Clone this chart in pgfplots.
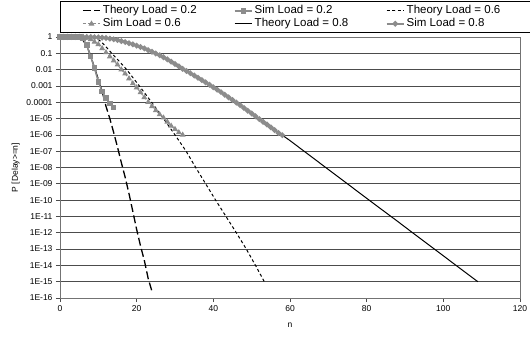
\documentclass[border=0pt]{standalone}
\usepackage{pgfplots}
\pgfplotsset{compat=1.18}
\usepackage{fontspec}
\setmainfont{Liberation Sans}
\definecolor{simgray}{RGB}{140,140,140}
\begin{document}
\begin{tikzpicture}
\path[use as bounding box] (-60pt,-39pt) rectangle (470pt,298pt);
\begin{axis}[
  scale only axis, width=460pt, height=261pt,
  xmin=0, xmax=120, ymin=1e-16, ymax=1, ymode=log,
  xtick={0,20,40,60,80,100,120},
  xticklabels={0,20,40,60,80,100,120},
  ytick={1,1e-1,1e-2,1e-3,1e-4,1e-5,1e-6,1e-7,1e-8,1e-9,1e-10,1e-11,1e-12,1e-13,1e-14,1e-15,1e-16},
  yticklabels={1,0.1,0.01,0.001,0.0001,1E-05,1E-06,1E-07,1E-08,1E-09,1E-10,1E-11,1E-12,1E-13,1E-14,1E-15,1E-16},
  yminorticks=false,
  tick align=outside, tick pos=left, major tick length=4pt,
  ymajorgrids, grid style={black!70, line width=0.7pt},
  axis line style={black!55, line width=0.8pt},
  every tick/.style={black!70, line width=0.7pt},
  tick label style={font=\fontsize{8.5}{10}\selectfont},
  xlabel={n}, ylabel={P [Delay>=n]},
  label style={font=\fontsize{8.5}{10}\selectfont},
  xlabel style={yshift=-5pt},
  legend columns=3,
  legend cell align=left,
  legend image code/.code={%
    \path[draw=none, fill=none] (0pt,0pt) (20pt,0pt);
    \draw[mark repeat=2,mark phase=2,#1] plot coordinates {(0pt,0pt) (8.5pt,0pt) (17pt,0pt)};},
  legend style={at={(0,1)}, anchor=north west, yshift=35.5pt, draw=black, line width=0.7pt,
    font=\fontsize{11.5}{13}\selectfont, inner xsep=22pt, inner ysep=4pt, row sep=3pt,
    nodes={inner sep=0pt, text height=8pt, text depth=2pt},
    /tikz/every even column/.append style={column sep=0pt},
    /tikz/every odd column/.append style={column sep=0pt}},
]
% theoretical and simulated delay tails for three loads
\addplot[black, line width=1.3pt, dash pattern=on 8pt off 3.5pt] coordinates {
(0,1) (5,1) (6,0.631) (7,0.282) (8,0.0708) (9,0.0126) (10,0.00251) (11,4.47e-4)
(12,5.62e-5) (13,1e-5) (14,1.41e-6) (15,1.78e-7) (16,2e-8) (17,2.51e-9) (18,2.51e-10)
(19,2e-11) (20,1.58e-12) (21,1.58e-13) (22,2e-14) (23,1.58e-15) (24,2.51e-16)};
\addlegendentry{\makebox[131pt][l]{Theory Load = 0.2}}

\addplot[simgray, line width=1.5pt, mark=square*, mark size=2pt, mark options={solid}] coordinates {
(0,1) (1,1) (2,1) (3,1) (4,1) (5,1) (6,0.794) (7,0.316) (8,0.0631) (9,0.0126)
(10,0.00178) (11,4.47e-4) (12,1.78e-4) (13,8.51e-5) (14,4.68e-5)};
\addlegendentry{\makebox[131pt][l]{Sim Load = 0.2}}

\addplot[black, line width=1pt, dash pattern=on 3pt off 2.5pt] coordinates {
(0,1) (8,1) (9,0.891) (10,0.708) (11,0.447) (12,0.251) (13.5,0.1) (15.5,0.0316)
(17.4,0.01) (20.7,1e-3) (23.9,1e-4) (27,1e-5) (30,1e-6) (32.9,1e-7) (35.4,1e-8)
(38,1e-9) (40.6,1e-10) (43.3,1e-11) (46,1e-12) (48.6,1e-13) (51,1e-14) (53.3,1e-15)};
\addlegendentry{\makebox[102pt][l]{Theory Load = 0.6}}

\addplot[simgray, line width=1pt, dash pattern=on 3pt off 2pt, mark=triangle*, mark size=2.4pt, mark options={solid}] coordinates {
(0,1) (1,1) (2,1) (3,1) (4,1) (5,1) (6,1) (7,0.891) (8,0.708) (9,0.501) (10,0.355)
(11,0.2) (12,0.112) (13,0.0631) (14,0.0355) (15,0.02) (16,0.01) (17,0.00562)
(18,0.00282) (19,0.00141) (20,7.94e-4) (21,3.98e-4) (22,2e-4) (23,1e-4) (24,5.62e-5)
(25,3.16e-5) (26,1.78e-5) (27,1.12e-5) (28,6.31e-6) (29,3.55e-6) (30,2.24e-6)
(31,1.41e-6) (32,1e-6)};
\addlegendentry{\makebox[131pt][l]{Sim Load = 0.6}}

\addplot[black, line width=1pt] coordinates {
(0,1) (8,1) (10,0.955) (12,0.891) (14,0.759) (16,0.603) (18,0.447) (20,0.316)
(22,0.214) (24,0.135) (26,0.0813) (28,0.0457) (30,0.0240) (32,0.0120) (34,0.00631)
(36,0.00324) (38,0.00166) (40,8.51e-4) (42,4.27e-4) (44,2e-4) (46,9.55e-5)
(48,4.47e-5) (50,2e-5) (52,9.33e-6) (54,4.27e-6) (56,2e-6) (58,9.55e-7) (60,4.47e-7)
(64,8.71e-8) (70,7.59e-9) (76,6.61e-10) (82,5.75e-11) (88,5.13e-12) (93,6.61e-13)
(98,8.71e-14) (104,7.59e-15) (109,1e-15)};
\addlegendentry{\makebox[131pt][l]{Theory Load = 0.8}}

\addplot[simgray, line width=2pt, mark=*, mark size=1.7pt, mark options={solid}] coordinates {
(0,1) (1,1) (2,1) (3,1) (4,1) (5,1) (6,1) (7,1) (8,1) (9,0.977) (10,0.955)
(11,0.912) (12,0.871) (13,0.794) (14,0.724) (15,0.646) (16,0.562) (17,0.490)
(18,0.417) (19,0.355) (20,0.295) (21,0.245) (22,0.2) (23,0.158) (24,0.126)
(25,0.0977) (26,0.0759) (27,0.0575) (28,0.0427) (29,0.0309) (30,0.0224)
(31,0.0158) (32,0.0112) (33,0.00832) (34,0.00603) (35,0.00437) (36,0.00316)
(37,0.00229) (38,0.00166) (39,0.00117) (40,8.32e-4) (41,5.89e-4) (42,4.17e-4)
(43,2.88e-4) (44,2e-4) (45,1.38e-4) (46,9.55e-5) (47,6.61e-5) (48,4.47e-5)
(49,3.02e-5) (50,2.04e-5) (51,1.38e-5) (52,9.33e-6) (53,6.31e-6) (54,4.27e-6)
(55,2.88e-6) (56,1.95e-6) (57,1.32e-6) (58,9.55e-7)};
\addlegendentry{\makebox[102pt][l]{Sim Load = 0.8}}
\end{axis}
\end{tikzpicture}
\end{document}
